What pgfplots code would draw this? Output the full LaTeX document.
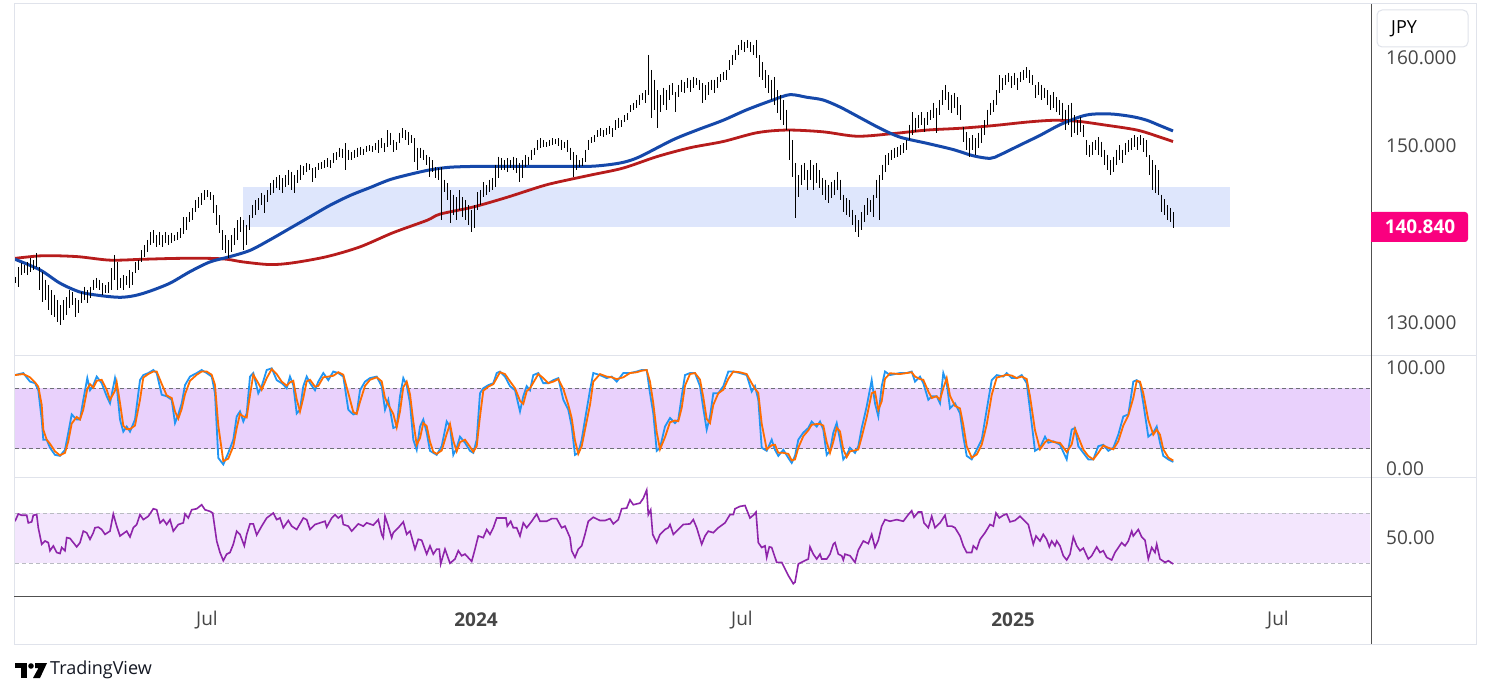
\documentclass[border=0pt]{standalone}
\usepackage{pgfplots}
\pgfplotsset{compat=1.18}
\usepackage{pgfplotstable}
\usepackage{fontspec}
\setmainfont{Open Sans}
\definecolor{maBlue}{RGB}{21,72,170}
\definecolor{maRed}{RGB}{183,28,28}
\definecolor{zoneBlue}{RGB}{222,230,252}
\definecolor{stochBand}{RGB}{233,209,252}
\definecolor{kBlue}{RGB}{33,150,243}
\definecolor{dOrange}{RGB}{255,109,0}
\definecolor{rsiLine}{RGB}{142,36,170}
\definecolor{rsiBand}{RGB}{243,230,253}
\definecolor{gridGray}{RGB}{224,227,235}
\definecolor{axisText}{RGB}{70,70,70}
\definecolor{tagPink}{RGB}{250,0,127}
\definecolor{darkLine}{RGB}{80,80,80}
\definecolor{stochDash}{RGB}{110,112,120}
\definecolor{rsiDash}{RGB}{185,187,194}
\definecolor{tvText}{RGB}{19,23,34}

\pgfplotstableread{
x hi lo
15 135.2 134.5
18 136.3 134.1
21 136.8 135.4
24 136.6 135.7
27 136.9 135.4
30 137.3 135.8
33 137.1 136.0
36 137.9 136.3
39 136.3 133.7
42 135.8 132.4
45 134.9 132.6
48 134.3 131.5
51 133.7 130.9
54 133.2 130.7
57 132.6 130.1
60 132.0 129.8
63 132.6 130.3
66 132.9 130.9
69 133.7 131.7
72 133.5 132.0
75 132.8 130.7
78 132.6 131.1
81 133.5 132.3
84 134.1 132.6
87 133.7 132.3
90 134.1 132.8
93 134.9 133.7
96 135.1 134.0
99 134.9 133.7
102 134.5 133.2
105 134.3 133.4
108 134.6 133.4
111 136.2 133.7
114 137.7 134.9
117 136.9 133.7
120 135.1 134.0
123 135.4 133.7
126 135.3 134.3
129 136.0 134.0
132 135.8 134.3
135 136.9 135.7
138 137.1 136.0
141 138.2 136.9
144 138.8 137.5
147 139.4 138.0
150 140.3 138.8
153 140.5 139.0
156 139.9 138.6
159 140.3 138.8
162 139.9 138.6
165 140.3 139.0
168 139.9 138.8
171 140.2 139.0
174 139.9 139.3
177 140.3 139.4
180 140.7 139.6
183 142.0 140.0
186 142.0 140.5
189 142.5 141.4
192 143.0 141.6
195 143.9 142.5
198 144.2 143.0
201 144.7 143.3
204 145.0 143.9
207 145.0 144.2
210 144.8 143.9
213 144.5 142.4
216 143.3 141.1
219 142.2 140.2
222 140.5 138.3
225 139.9 137.9
228 139.4 137.3
231 139.9 138.0
234 140.7 138.8
237 141.6 139.4
240 142.0 140.3
243 141.6 138.2
246 141.1 138.8
249 142.2 140.5
252 143.3 141.9
255 143.9 142.2
258 144.1 142.8
261 144.7 143.3
264 144.5 142.4
267 145.0 143.7
270 145.8 144.5
273 146.2 144.7
276 146.5 145.3
279 146.7 145.0
282 146.4 144.7
285 146.7 145.4
288 147.3 145.6
291 147.1 145.0
294 146.7 144.7
297 147.3 145.8
300 147.9 146.2
303 147.7 146.7
306 148.1 147.1
309 148.0 147.3
312 147.5 145.9
315 147.6 146.4
318 148.1 147.3
321 148.2 147.4
324 148.4 147.5
327 148.6 147.6
330 148.4 147.5
333 149.2 148.1
336 149.3 148.4
339 149.8 148.8
342 149.7 148.6
345 150.3 147.3
348 149.6 148.4
351 149.3 148.4
354 149.6 148.6
357 149.8 148.8
360 149.9 149.0
363 149.7 149.0
366 150.0 149.3
369 150.1 149.4
372 150.0 149.3
375 150.3 149.6
378 150.7 149.2
381 150.9 149.8
384 150.3 149.3
387 151.8 149.9
390 151.5 150.1
393 150.7 149.3
396 150.5 149.6
399 151.5 150.3
402 152.0 150.9
405 151.8 150.7
408 151.6 150.1
411 151.2 150.3
414 150.9 148.2
417 149.8 147.3
420 149.8 148.6
423 149.6 148.4
426 149.0 147.9
429 148.8 146.5
432 148.4 147.1
435 147.6 146.4
438 147.5 146.2
441 147.6 141.6
444 146.2 144.8
447 145.8 143.9
450 145.0 141.3
453 144.5 142.2
456 144.2 141.6
459 145.0 142.8
462 144.2 142.0
465 143.9 141.6
468 143.3 141.1
471 142.8 140.3
474 143.3 140.7
477 144.8 142.8
480 145.0 143.3
483 145.9 144.2
486 145.6 144.5
489 146.2 144.8
492 146.4 145.0
495 147.9 145.4
498 148.8 146.4
501 148.6 147.3
504 148.4 147.3
507 148.6 147.1
510 148.4 147.5
513 148.8 147.3
516 148.6 147.0
519 148.1 145.9
522 148.4 146.4
525 149.0 147.6
528 148.8 147.9
531 149.6 148.4
534 149.8 149.0
537 150.7 149.6
540 150.9 149.8
543 150.7 149.9
546 150.5 149.9
549 150.7 150.0
552 150.9 150.1
555 150.8 150.2
558 150.9 150.0
561 150.7 149.6
564 150.5 149.8
567 150.7 149.3
570 149.8 148.4
573 149.3 146.5
576 149.0 147.3
579 148.4 147.6
582 148.6 147.7
585 149.6 148.2
588 150.7 149.6
591 151.0 150.3
594 151.2 150.5
597 151.8 151.0
600 152.0 151.1
603 151.8 151.0
606 152.0 151.2
609 152.3 151.4
612 152.0 151.0
615 152.9 151.8
618 153.2 152.0
621 152.9 152.1
624 153.5 152.7
627 153.7 152.9
630 154.6 153.8
633 154.9 154.1
636 155.2 154.3
639 155.8 154.6
642 156.0 155.2
645 156.3 154.9
648 160.3 155.8
651 158.6 153.2
654 157.5 154.1
657 156.3 152.0
660 155.8 153.8
663 156.6 154.6
666 156.3 154.1
669 156.9 155.2
672 157.1 155.8
675 156.1 153.8
678 156.9 155.5
681 157.5 156.1
684 157.2 156.0
687 157.7 156.6
690 157.5 156.1
693 157.8 156.6
696 157.7 156.9
699 157.5 156.3
702 157.1 154.9
705 156.9 155.2
708 157.2 155.8
711 157.5 156.3
714 157.5 156.0
717 157.8 156.6
720 158.1 157.2
723 158.4 157.5
726 158.6 157.5
729 159.7 158.6
732 160.3 159.2
735 160.9 159.7
738 161.4 160.3
741 162.0 160.9
744 161.8 160.6
747 162.0 161.1
750 161.8 160.6
753 161.4 160.3
756 162.0 159.9
759 160.3 157.8
762 159.5 157.5
765 158.6 156.6
768 158.0 156.0
771 157.5 155.2
774 157.8 154.6
777 156.3 153.7
780 155.8 152.9
783 155.2 152.4
786 154.1 151.8
789 151.8 148.4
792 150.7 146.5
795 148.1 141.9
798 146.7 144.2
801 147.9 145.6
804 148.1 146.2
807 147.3 145.0
810 148.4 146.2
813 147.9 145.0
816 148.1 145.8
819 147.3 145.3
822 146.4 144.5
825 146.2 143.9
828 145.6 143.6
831 145.9 144.1
834 146.2 144.5
837 147.1 145.0
840 146.2 143.9
843 144.5 142.5
846 144.1 142.2
849 143.9 142.0
852 142.8 141.1
855 142.2 140.3
858 141.6 139.7
861 142.5 140.5
864 143.3 141.4
867 144.1 142.2
870 143.9 142.5
873 144.5 142.0
876 146.2 144.1
879 146.7 141.6
882 147.9 146.2
885 149.0 147.1
888 149.2 147.9
891 149.6 148.4
894 149.8 148.6
897 149.9 148.8
900 150.1 149.0
903 150.3 149.2
906 150.7 149.6
909 152.4 150.7
912 153.8 151.2
915 153.2 151.6
918 153.5 152.0
921 153.8 152.4
924 153.2 151.6
927 153.8 152.4
930 154.1 152.9
933 154.9 153.2
936 154.3 151.5
939 155.2 153.5
942 156.3 154.6
945 156.9 155.2
948 156.1 154.1
951 155.8 153.7
954 156.0 154.3
957 155.5 153.5
960 154.6 152.9
963 152.2 150.5
966 151.6 149.6
969 150.9 148.8
972 151.2 149.6
975 150.9 149.0
978 151.5 149.8
981 152.0 150.3
984 152.9 151.2
987 154.1 152.4
990 154.9 153.5
993 155.2 153.8
996 156.3 154.6
999 158.0 156.0
1002 157.7 156.3
1005 158.0 156.9
1008 158.3 157.2
1011 157.9 156.6
1014 158.3 156.9
1017 157.7 156.3
1020 158.4 157.2
1023 158.6 157.5
1026 158.9 157.7
1029 158.6 157.1
1032 158.0 156.9
1035 156.9 155.4
1038 157.2 155.8
1041 156.9 155.2
1044 156.6 155.4
1047 156.3 154.6
1050 155.8 154.1
1053 156.1 154.3
1056 155.5 153.8
1059 155.2 153.5
1062 154.9 152.9
1065 154.1 151.8
1068 154.6 152.4
1071 154.9 151.0
1074 153.5 151.5
1077 152.9 151.2
1080 153.3 151.6
1083 152.4 151.0
1086 150.7 149.0
1089 150.1 148.8
1092 150.5 149.0
1095 150.7 149.6
1098 151.0 149.0
1101 150.5 148.8
1104 149.6 147.9
1107 149.0 147.3
1110 148.4 146.7
1113 148.8 147.1
1116 149.6 147.9
1119 150.1 148.4
1122 149.6 148.1
1125 150.3 149.0
1128 150.7 149.3
1131 150.9 149.6
1134 151.2 149.9
1137 151.0 149.6
1140 151.2 150.1
1143 150.9 149.3
1146 150.7 148.8
1149 149.0 146.7
1152 148.4 145.0
1155 147.9 144.7
1158 147.3 144.5
1161 144.5 142.5
1164 144.0 142.2
1167 143.3 141.6
1170 143.0 141.4
1173 142.5 140.7
}\bars

\pgfplotstableread{
x y
15 137.2
40 136.0
60 134.5
80 133.5
100 133.1
120 132.9
135 133.1
150 133.6
170 134.5
190 135.8
210 136.9
230 137.5
250 138.2
270 139.4
290 140.7
310 142.0
330 143.3
350 144.4
370 145.3
390 146.2
410 146.8
430 147.3
450 147.6
480 147.7
520 147.7
560 147.7
590 147.7
610 147.9
625 148.2
640 148.8
673 150.7
697 151.8
723 152.9
747 154.1
773 155.2
790 155.8
807 155.5
823 155.2
840 154.4
860 153.2
880 152.0
900 151.0
927 150.3
953 149.6
973 148.9
990 148.6
1000 149.0
1020 150.1
1040 151.2
1060 152.4
1080 153.3
1093 153.6
1113 153.6
1133 153.3
1147 152.9
1160 152.3
1173 151.7
}\maFast

\pgfplotstableread{
x y
15 137.3
43 137.6
77 137.5
110 137.1
143 137.2
177 137.3
210 137.3
227 137.2
243 136.9
270 136.6
293 136.8
327 137.5
360 138.6
393 140.2
427 141.6
440 142.3
473 143.1
507 144.2
540 145.4
557 145.9
590 146.7
623 147.5
657 148.8
690 149.8
723 150.5
757 151.5
787 151.8
823 151.6
857 151.1
893 151.4
927 151.8
960 152.0
993 152.3
1027 152.7
1053 152.9
1077 152.8
1103 152.4
1137 151.8
1160 151.0
1173 150.5
}\maSlow

\pgfplotstableread{
x k
15 93
23.3 95
30 86.5
35 85
38.3 78
41.7 49
43.3 29
46.7 29
50 21
55 14
60 13
65 19
68.3 36
71.7 54
76.7 49
80 49
83.3 68.5
87.3 90
90 78
93.3 83
96.7 91.5
101.7 85
106.7 72
110 65
115 90
116.7 82
120 49
123.3 37
126.7 42
130 37
135 49
140 88
143.3 93
148.3 95
153.3 98
156.7 95
161.7 73.5
166.7 72
171.7 68.5
175 45.5
178.3 54
181.7 65
185 83
190 91.5
196.7 95
201.7 98
206.7 95
211.7 91.5
215 75
218.3 11
223.3 4.5
228.3 16
233.3 29
236.7 52
240 57
243.3 47
246.7 55
250 91.5
253.3 95
258.3 75
261.7 82
266.7 98
271.7 99.7
276.7 88
281.7 85
286.7 80
290 91.5
293.3 83
296.7 55
300 58.7
303.3 82
306.7 91.5
310 85
315 78
318.3 86.5
323.3 95
328.3 88
333.3 96.5
338.3 95
343.3 91.5
348.3 58.7
353.3 54
356.7 55
360 78
365 86.5
370 90
376.7 91.5
381.7 82
385 58.7
388.3 68.5
393.3 40.6
396.7 42
400 72
403.3 90
406.7 83
410 65
413.3 29
416.7 19
420 42
423.3 49
426.7 36
430 18
433.3 16
436.7 14
441.7 22.6
446.7 47
450 42
453.3 14
456.7 21
460 32
465 26
470 18
473.3 16
476.7 29
480 75
483.3 80
488.3 83
493.3 85
496.7 95
500 96.5
505 91.5
510 82
515 78
520 57
523.3 72
526.7 82
530 78
533.3 93
538.3 95
543.3 85
548.3 85
553.3 88
558.3 90
563.3 68.5
568.3 58.7
571.7 42
575 14
578.3 16
581.7 29
585 49
590 78
593.3 95
600 93
606.7 90
611.7 91.5
616.7 86.5
623.3 95
630 95
636.7 96.5
641.7 98
646.7 98
650 75
653.3 55
656.7 18
660 21
665 42
670 50.5
675 45.5
678.3 49
681.7 72
685 93
690 95
695 95
700 82
703.3 60
706.7 39
710 52
713.3 75
718.3 75
723.3 82
728.3 96.5
733.3 96.5
740 95
746.7 93
751.7 76.7
755 82
758.3 68.5
761.7 21
766.7 18
771.7 29
775 19
778.3 13
783.3 19
788.3 11
791.7 6
795 13
798.3 29
803.3 36
808.3 40.6
811.7 47
816.7 42
820 47
823.3 39
826.7 14
830 18
833.3 36
836.7 45.5
840 29
843.3 9.5
846.7 14
850 21
855 16
858.3 22.6
861.7 40.6
866.7 62
871.7 88
875 65
878.3 52
881.7 82
885 96.5
890 93
900 95
906.7 95
911.7 96.5
915 86.5
920 91.5
923.3 85
928.3 68.5
931.7 72
936.7 72
940 65
943.3 95
946.7 85
950 60
955 65
960 55
963.3 32
966.7 13
971.7 9.5
976.7 19
981.7 29
986.7 58.7
991.7 88
996.7 93
1003.3 91.5
1006.7 95
1011.7 90
1016.7 90
1021.7 93
1026.7 85
1030 58.7
1035 18
1040 21
1045 32
1048.3 26
1053.3 27.5
1060 24
1066.7 9.5
1071.7 39
1075 40.6
1078.3 22.6
1083.3 16
1088.3 9.5
1093.3 9.5
1098.3 22.6
1103.3 24
1108.3 18
1113.3 21
1118.3 34
1123.3 52
1128.3 54
1133.3 86.5
1136.7 88
1140 85
1143.3 65
1148.3 32
1153.3 36
1156.7 42
1160 26
1163.3 13
1168.3 9.5
1173.3 7
}\stochK

\pgfplotstableread{
x d
15 93
23.3 94
30 90.8
35 85.8
38.3 81.5
41.7 63.5
43.3 39
46.7 29
50 25
55 17.5
60 13.5
65 16
68.3 27.5
71.7 45
76.7 51.5
80 49
83.3 58.8
87.3 79.3
90 84
93.3 80.5
96.7 87.3
101.7 88.3
106.7 78.5
110 68.5
115 77.5
116.7 86
120 65.5
123.3 43
126.7 39.5
130 39.5
135 43
140 68.5
143.3 90.5
148.3 94
153.3 96.5
156.7 96.5
161.7 84.3
166.7 72.8
171.7 70.3
175 57
178.3 49.8
181.7 59.5
185 74
190 87.3
196.7 93.3
201.7 96.5
206.7 96.5
211.7 93.3
215 83.3
218.3 43
223.3 7.8
228.3 10.3
233.3 22.5
236.7 40.5
240 54.5
243.3 52
246.7 51
250 73.3
253.3 93.3
258.3 85
261.7 78.5
266.7 90
271.7 98.9
276.7 93.9
281.7 86.5
286.7 82.5
290 85.8
293.3 87.3
296.7 69
300 56.9
303.3 70.4
306.7 86.8
310 88.3
315 81.5
318.3 82.3
323.3 90.8
328.3 91.5
333.3 92.3
338.3 95.8
343.3 93.3
348.3 75.1
353.3 56.4
356.7 54.5
360 66.5
365 82.3
370 88.3
376.7 90.8
381.7 86.8
385 70.4
388.3 63.6
393.3 54.6
396.7 41.3
400 57
403.3 81
406.7 86.5
410 74
413.3 47
416.7 24
420 30.5
423.3 45.5
426.7 42.5
430 27
433.3 17
436.7 15
441.7 18.3
446.7 34.8
450 44.5
453.3 28
456.7 17.5
460 26.5
465 29
470 22
473.3 17
476.7 22.5
480 52
483.3 77.5
488.3 81.5
493.3 84
496.7 90
500 95.8
505 94
510 86.8
515 80
520 67.5
523.3 64.5
526.7 77
530 80
533.3 85.5
538.3 94
543.3 90
548.3 85
553.3 86.5
558.3 89
563.3 79.3
568.3 63.6
571.7 50.4
575 28
578.3 15
581.7 22.5
585 39
590 63.5
593.3 86.5
600 94
606.7 91.5
611.7 90.8
616.7 89
623.3 90.8
630 95
636.7 95.8
641.7 97.3
646.7 98
650 86.5
653.3 65
656.7 36.5
660 19.5
665 31.5
670 46.3
675 48
678.3 47.3
681.7 60.5
685 82.5
690 94
695 95
700 88.5
703.3 71
706.7 49.5
710 45.5
713.3 63.5
718.3 75
723.3 78.5
728.3 89.3
733.3 96.5
740 95.8
746.7 94
751.7 84.9
755 79.4
758.3 75.3
761.7 44.8
766.7 19.5
771.7 23.5
775 24
778.3 16
783.3 16
788.3 15
791.7 8.5
795 9.5
798.3 21
803.3 32.5
808.3 38.3
811.7 43.8
816.7 44.5
820 44.5
823.3 43
826.7 26.5
830 16
833.3 27
836.7 40.8
840 37.3
843.3 19.3
846.7 11.8
850 17.5
855 18.5
858.3 19.3
861.7 31.6
866.7 51.3
871.7 75
875 76.5
878.3 58.5
881.7 67
885 89.3
890 94.8
900 94
906.7 95
911.7 95.8
915 91.5
920 89
923.3 88.3
928.3 76.8
931.7 70.3
936.7 72
940 68.5
943.3 80
946.7 90
950 72.5
955 62.5
960 60
963.3 43.5
966.7 22.5
971.7 11.3
976.7 14.3
981.7 24
986.7 43.9
991.7 73.4
996.7 90.5
1003.3 92.3
1006.7 93.3
1011.7 92.5
1016.7 90
1021.7 91.5
1026.7 89
1030 71.9
1035 38.4
1040 19.5
1045 26.5
1048.3 29
1053.3 26.8
1060 25.8
1066.7 16.8
1071.7 24.3
1075 39.8
1078.3 31.6
1083.3 19.3
1088.3 12.8
1093.3 9.5
1098.3 16
1103.3 23.3
1108.3 21
1113.3 19.5
1118.3 27.5
1123.3 43
1128.3 53
1133.3 70.3
1136.7 87.3
1140 86.5
1143.3 75
1148.3 48.5
1153.3 34
1156.7 39
1160 34
1163.3 19.5
1168.3 11.3
1173.3 8.3
}\stochD

\pgfplotstableread{
x r
15 63.4
18.3 69.2
21.7 68.2
26.7 68.2
28.3 62.1
31.7 62.9
33.3 68.2
36.7 68.7
38.3 58.2
41.7 45
45 47.6
48.3 46.3
50 39.8
53.3 43.7
56.7 38.4
60 37.6
61.7 42.4
65 39.8
66.7 50.3
70 49.7
76.7 42.9
80 46.3
83.3 55.5
86.7 54.2
90 49
93.3 54.2
95 58.2
98.3 58.7
101.7 56.8
105 52.9
110 55.5
113.3 69.2
116.7 59.5
120 51.6
126.7 55.5
130 50.8
133.3 58.2
136.7 60.8
140 68.7
143.3 64.7
148.3 67.4
153.3 73.4
156.7 72.6
160 62.1
163.3 64.7
166.7 60.8
170 64.7
173.3 55.5
178.3 60.8
183.3 62.1
185 69.2
188.3 66
191.7 72.6
196.7 73.4
201.7 76.6
205 72.6
210 71.3
212.7 70
216.7 47.6
220 38.4
223.3 31.9
226.7 37.1
230 38.4
233.3 45
236.7 55.5
240 52.9
244.3 43.7
246.7 52.9
250 61.3
253.3 61.3
256.7 52.4
261.7 59.5
266.7 66
273.3 70
276.7 64.7
280 66
283.3 58.2
288.3 64
291.7 59.5
296.7 56.8
303.3 66
306.7 64.7
310 56.8
315 60.8
320 62.1
325 63.4
326.7 58.7
331.7 66
335 68.7
338.3 66
341.7 68.2
343.3 60.8
348.3 59.5
351.7 55.5
358.3 61.3
363.3 59.5
366.7 62.1
373.3 60.3
378.3 64.7
381.7 52.9
383.3 50.3
385 67.4
388.3 59.5
391.7 50.3
393.3 54.2
398.3 58.2
403.3 62.9
406.7 52.9
410 55.5
415 41.1
418.3 49
421.7 48.2
426.7 37.1
430 43.7
433.3 37.1
436.7 41.1
439.3 41.1
440.7 29.2
445 41.1
450 29.8
455 33.2
458.3 39.8
461.7 35.8
465 37.1
471.7 31.3
475 41.1
478.3 51.6
483.3 50.3
486.7 56.8
490 52.9
493.3 58.2
496.7 66
506 66
507.3 59.5
510.7 63.4
513.3 58.2
516.7 58.2
520 51.6
523.3 62.1
526.7 58.2
531.7 63.4
536.7 69.2
540 63.4
546.7 63.4
551.7 65.5
556.7 65.5
561.7 58.2
565 59.5
570 50.3
571.7 39.8
575 34.5
578.3 41.1
581.7 43.7
585 52.9
588.3 63.4
593.3 66.6
600 64
605 64
610 65.5
613.3 61.3
618.3 64.7
621.7 73.4
626.7 73.9
630 80.5
633.3 76.6
640 77.9
643.3 81.8
646.7 88.4
648.3 68.7
650.7 72.6
652.7 52.9
656.7 46.3
660 52.9
665 56.8
668.3 58.2
670 60.8
673.3 52.9
678.3 56.8
683.3 60.8
690 61.3
693.3 64.7
696.7 58.2
701.7 45
705 51.6
708.3 55.5
713.3 54.2
718.3 58.2
725 62.1
730 68.7
733.3 68.7
735 73.4
740 75.3
745 76
750 66
754 68.7
756 70.8
758.3 46.3
761.7 42.4
765 43.7
766.7 34.5
769.3 42.9
771.7 42.4
776.7 30.5
781.7 30.5
788.3 20
793.3 13.4
795 14.7
798.3 29.2
803.3 31.3
808.3 33.2
810 42.9
813.3 37.1
816.7 33.2
820 37.1
821.7 33.2
826.7 33.2
830 37.1
833.3 45
835 46.3
838.3 37.1
841.7 35.8
843.3 32.4
845 37.1
850 35.8
855 30.5
858.3 40.3
863.3 47.6
868.3 45.5
871.7 52.9
875 42.4
878.3 48.2
881.7 59.5
885 64.7
890 63.4
896.7 64.7
903.3 63.4
908.3 68.7
911.7 71.8
914 66.6
918.3 70.8
921.7 70.8
924 62.1
928.3 58.2
931.7 67.4
935 58.2
940 62.1
945 68.2
947.3 59.5
951.7 59.5
955 58.2
960 51.6
963.3 43.7
966.7 38.4
971.7 38.4
973.3 43.7
976.7 41.1
980 48.8
985 54.2
990 60.8
993.3 59.5
996 70
999.3 66
1003.3 68.2
1006.7 69.2
1010 62.9
1015 64
1020 67.4
1025 63.4
1028.3 60.8
1033.3 45
1036 51.6
1040 47.6
1043.3 52.9
1046.7 48.8
1049.3 42.9
1051.7 47.6
1055 43.7
1056.7 47.6
1060 43.7
1063.3 35.8
1066.7 32.4
1070 37.1
1073.3 50.8
1076.7 43.7
1080 39.8
1083.3 41.9
1088.3 33.2
1091.7 35.8
1096.7 42.9
1100 38.4
1103.3 39.8
1106.7 34.5
1111.7 32.4
1115 38.4
1121.7 46.3
1125 43.7
1128.3 47.6
1131.7 55.5
1133.3 51.6
1138.3 56.8
1141.7 50.8
1145 48.2
1148.3 33.2
1151.7 42.4
1155 38.4
1156.7 45
1160 33.2
1165 30.5
1168.3 31.8
1173.3 29.2
}\rsi

\pgfplotsset{panel/.style={scale only axis, width=1355pt, xmin=15, xmax=1370,
  hide axis, clip=true, anchor=south west}}

\begin{document}
\begin{tikzpicture}
\path[use as bounding box] (0pt,0pt) rectangle (1491pt,697pt);
\fill[white] (0pt,0pt) rectangle (1491pt,697pt);

% ---------- price panel ----------
\begin{axis}[panel, at={(15pt,341pt)}, height=351pt, ymin=126.27, ymax=165.93]
\fill[zoneBlue] (axis cs:243,140.85) rectangle (axis cs:1230,145.4);
\addplot[maRed, line width=2.8pt, smooth] table[x=x,y=y] {\maSlow};
\addplot[maBlue, line width=3pt, smooth] table[x=x,y=y] {\maFast};
\addplot[draw=none, mark=none,
  error bars/.cd, y dir=minus, y explicit, error mark=none,
  error bar style={draw=black, line width=0.95pt}]
  table[x=x, y=hi, y error minus expr=\thisrow{hi}-\thisrow{lo}] {\bars};
\end{axis}

% ---------- stochastic panel ----------
\begin{axis}[panel, at={(15pt,220pt)}, height=121pt, ymin=-7.92, ymax=111.88]
\fill[stochBand] (axis cs:15,20) rectangle (axis cs:1370,80);
\draw[stochDash, line width=1pt, dash pattern=on 4pt off 3pt]
  (axis cs:15,80) -- (axis cs:1370,80);
\draw[stochDash, line width=1pt, dash pattern=on 4pt off 3pt]
  (axis cs:15,20) -- (axis cs:1370,20);
\addplot[kBlue, line width=1.8pt] table[x=x,y=k] {\stochK};
\addplot[dOrange, line width=1.8pt] table[x=x,y=d] {\stochD};
\end{axis}

% ---------- RSI panel ----------
\begin{axis}[panel, at={(15pt,101pt)}, height=119pt, ymin=3.6, ymax=98.8]
\fill[rsiBand] (axis cs:15,30) rectangle (axis cs:1370,70);
\draw[rsiDash, line width=1pt, dash pattern=on 4pt off 3pt]
  (axis cs:15,70) -- (axis cs:1370,70);
\draw[rsiDash, line width=1pt, dash pattern=on 4pt off 3pt]
  (axis cs:15,30) -- (axis cs:1370,30);
\addplot[rsiLine, line width=1.6pt] table[x=x,y=r] {\rsi};
\end{axis}

% ---------- frame and separators ----------
\draw[gridGray, line width=1pt] (14pt,53pt) rectangle (1476pt,693pt);
\draw[gridGray, line width=1pt] (14pt,341pt) -- (1476pt,341pt);
\draw[gridGray, line width=1pt] (14pt,220pt) -- (1476pt,220pt);
\draw[darkLine, line width=1pt] (14pt,101pt) -- (1371pt,101pt);
\draw[darkLine, line width=1pt] (1371pt,53pt) -- (1371pt,693pt);

% ---------- right scale labels ----------
\begin{scope}[every node/.style={anchor=west, inner sep=0pt, text=axisText, font=\fontsize{19}{22}\selectfont}]
\node at (1386pt,639pt) {160.000};
\node at (1386pt,551pt) {150.000};
\node at (1386pt,374pt) {130.000};
\node at (1386pt,329pt) {100.00};
\node at (1386pt,228pt) {0.00};
\node at (1386pt,159pt) {50.00};
\end{scope}

% JPY box
\draw[gridGray, fill=white, rounded corners=5pt, line width=1pt] (1377pt,650pt) rectangle (1468pt,687pt);
\node[anchor=west, inner sep=0pt, font=\fontsize{18}{21}\selectfont, text=black] at (1391pt,668pt) {JPY};

% price tag
\fill[tagPink, rounded corners=3pt] (1371pt,455pt) rectangle (1468pt,485pt);
\fill[tagPink] (1371pt,455pt) rectangle (1380pt,485pt);
\node[inner sep=0pt, text=white, font=\fontsize{19}{22}\selectfont\bfseries] at (1420pt,470pt) {140.840};

% time labels
\begin{scope}[every node/.style={inner sep=0pt, text=axisText, font=\fontsize{19}{22}\selectfont}]
\node at (207pt,77pt) {Jul};
\node[font=\fontsize{19}{22}\selectfont\bfseries] at (476pt,77pt) {2024};
\node at (742pt,77pt) {Jul};
\node[font=\fontsize{19}{22}\selectfont\bfseries] at (1013pt,77pt) {2025};
\node at (1278pt,77pt) {Jul};
\end{scope}

% TradingView logo
\fill[black] (15pt,34pt) rectangle (27pt,29pt);
\fill[black] (21pt,29pt) rectangle (27pt,19pt);
\fill[black] (31pt,31pt) circle (2.8pt);
\fill[black] (35pt,34pt) -- (47pt,34pt) -- (40pt,19pt) -- (33pt,19pt) -- (38.5pt,29pt) -- (35pt,29pt) -- cycle;
\node[anchor=west, inner sep=0pt, font=\fontsize{18}{21}\selectfont, text=tvText] at (50pt,27pt) {TradingView};
\end{tikzpicture}
\end{document}
